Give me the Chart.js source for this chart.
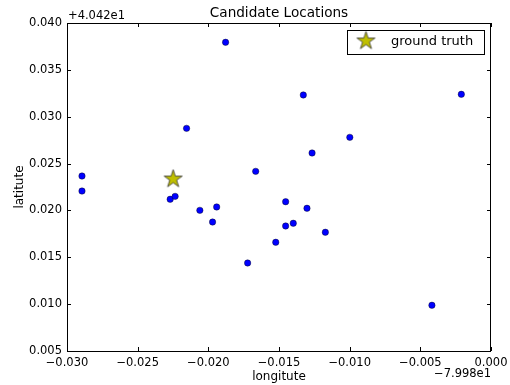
<!DOCTYPE html>
<html>
<head>
<meta charset="utf-8">
<script src="https://cdn.jsdelivr.net/npm/chart.js@4/dist/chart.umd.min.js"></script>
<style>
  html, body { margin: 0; padding: 0; background: #fff; }
  #wrap { width: 510px; height: 385px; }
</style>
</head>
<body>
<div id="wrap"><canvas id="scatter" width="510" height="385"></canvas></div>
<script>
/* values are offsets: lon = -79.98 + x, lat = 40.42 + y */
const xOffsetText = "\u22127.998e1";
const yOffsetText = "+4.042e1";

const candLon = [-0.01878, -0.02154, -0.02894, -0.02894, -0.02270, -0.02235, -0.01665, -0.02060,
  -0.01941, -0.01970, -0.01722, -0.01523, -0.01453, -0.01453, -0.01399, -0.01302, -0.01172,
  -0.01328, -0.00210, -0.00999, -0.01266, -0.00418];
const candLat = [0.03794, 0.02876, 0.02367, 0.02207, 0.02119, 0.02150, 0.02417, 0.02001,
  0.02037, 0.01876, 0.01439, 0.01660, 0.02093, 0.01834, 0.01863, 0.02023, 0.01767,
  0.03232, 0.03239, 0.02780, 0.02613, 0.00988];

const truthLon = [-0.02249];
const truthLat = [0.02335];

const xTicks = [-0.030, -0.025, -0.020, -0.015, -0.010, -0.005, 0.000];
const yTicks = [0.005, 0.010, 0.015, 0.020, 0.025, 0.030, 0.035, 0.040];

const FONT = "DejaVu Sans";

// filled 5-point star like matplotlib's '*'
function makeStar(r) {
  const size = Math.ceil(r * 2 + 2);
  const c = document.createElement("canvas");
  c.width = size; c.height = size;
  const g = c.getContext("2d");
  const cx = size / 2, cy = size / 2, ri = r * 0.381966;
  g.beginPath();
  for (let i = 0; i < 10; i++) {
    const rad = i % 2 === 0 ? r : ri;
    const a = -Math.PI / 2 + i * Math.PI / 5;
    const px = cx + rad * Math.cos(a), py = cy + rad * Math.sin(a);
    i === 0 ? g.moveTo(px, py) : g.lineTo(px, py);
  }
  g.closePath();
  g.fillStyle = "#bfbf00";
  g.fill();
  g.lineWidth = 0.8;
  g.strokeStyle = "#333";
  g.stroke();
  return c;
}
const starImg = makeStar(9.5);

const fmt = (v) => {
  const s = (Math.abs(v) < 1e-9 ? 0 : v).toFixed(3);
  return s.replace("-", "\u2212");
};

const decor = {
  id: "decor",
  afterDraw(chart) {
    const { ctx, chartArea: a, scales } = chart;
    ctx.save();
    // frame
    ctx.strokeStyle = "#000";
    ctx.lineWidth = 1;
    ctx.strokeRect(a.left + 0.5, a.top + 0.5, a.right - a.left - 1, a.bottom - a.top);
    // inward ticks on all sides
    ctx.beginPath();
    xTicks.forEach((v) => {
      const x = Math.round(scales.x.getPixelForValue(v)) + 0.5;
      ctx.moveTo(x, a.bottom); ctx.lineTo(x, a.bottom - 4);
      ctx.moveTo(x, a.top); ctx.lineTo(x, a.top + 4);
    });
    yTicks.forEach((v) => {
      const y = Math.round(scales.y.getPixelForValue(v)) + 0.5;
      ctx.moveTo(a.left, y); ctx.lineTo(a.left + 4, y);
      ctx.moveTo(a.right, y); ctx.lineTo(a.right - 4, y);
    });
    ctx.stroke();

    ctx.fillStyle = "#000";
    const midX = (a.left + a.right) / 2;
    // title
    ctx.font = "13.6px " + FONT;
    ctx.textAlign = "center";
    ctx.textBaseline = "middle";
    ctx.fillText("Candidate Locations", midX, 13);
    // axis labels
    ctx.font = "12px " + FONT;
    ctx.fillText("longitute", midX, 377);
    ctx.save();
    ctx.translate(20, (a.top + a.bottom) / 2);
    ctx.rotate(-Math.PI / 2);
    ctx.fillText("latitute", 0, 0);
    ctx.restore();
    // offset texts
    ctx.font = "11.5px " + FONT;
    ctx.textAlign = "left";
    ctx.fillText(yOffsetText, a.left + 1, 16);
    ctx.textAlign = "right";
    ctx.fillText(xOffsetText, a.right, 374);

    // legend
    const lx = 347, ly = 30, lw = 137, lh = 24;
    ctx.fillStyle = "#fff";
    ctx.fillRect(lx, ly, lw, lh);
    ctx.strokeStyle = "#000";
    ctx.strokeRect(lx + 0.5, ly + 0.5, lw, lh);
    ctx.drawImage(starImg, 366 - starImg.width / 2, 41 - starImg.height / 2);
    ctx.fillStyle = "#000";
    ctx.font = "13px " + FONT;
    ctx.textAlign = "left";
    ctx.fillText("ground truth", 391, 42);
    ctx.restore();
  }
};

const ctxEl = document.getElementById("scatter");

if (ctxEl) {
  new Chart(ctxEl, {
    type: "scatter",
    data: {
      datasets: [
        {
          label: "candidates",
          data: candLon.map((x, i) => ({ x, y: candLat[i] })),
          backgroundColor: "#0000ff",
          borderColor: "#000",
          borderWidth: 0.4,
          pointRadius: 3.2,
          pointHoverRadius: 3.2
        },
        {
          label: "ground truth",
          data: truthLon.map((x, i) => ({ x, y: truthLat[i] })),
          pointStyle: starImg,
          pointRadius: 10
        }
      ]
    },
    options: {
      responsive: false,
      animation: false,
      events: [],
      layout: { padding: { top: 23, right: 19, left: 0, bottom: 0 } },
      plugins: {
        legend: { display: false },
        tooltip: { enabled: false }
      },
      scales: {
        x: {
          type: "linear",
          min: -0.03,
          max: 0,
          afterBuildTicks: (s) => { s.ticks = xTicks.map((v) => ({ value: v })); },
          afterFit: (s) => { s.height = 34; s.paddingLeft = 0; s.paddingRight = 0; },
          grid: { display: false, drawTicks: false },
          border: { display: false },
          ticks: {
            padding: 5,
            maxRotation: 0,
            color: "#000",
            font: { family: FONT, size: 11.5 },
            callback: (v) => fmt(v)
          }
        },
        y: {
          type: "linear",
          min: 0.005,
          max: 0.04,
          afterBuildTicks: (s) => { s.ticks = yTicks.map((v) => ({ value: v })); },
          afterFit: (s) => { s.width = 67; s.paddingTop = 0; s.paddingBottom = 0; },
          grid: { display: false, drawTicks: false },
          border: { display: false },
          ticks: {
            padding: 5,
            color: "#000",
            font: { family: FONT, size: 11.5 },
            callback: (v) => fmt(v)
          }
        }
      }
    },
    plugins: [decor]
  });
}
</script>
</body>
</html>
